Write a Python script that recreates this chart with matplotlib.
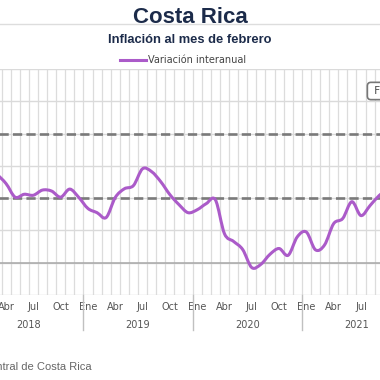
import numpy as np
import matplotlib.pyplot as plt
import matplotlib.transforms as mtransforms
from matplotlib.path import Path
from matplotlib.patches import PathPatch
from matplotlib.lines import Line2D


# datos: variacion interanual del IPC, enero 2018 - febrero 2022
MESES = ["Ene", "Feb", "Mar", "Abr", "May", "Jun",
         "Jul", "Ago", "Sep", "Oct", "Nov", "Dic"]
ANIOS = [2018, 2019, 2020, 2021, 2022]
variacion = [
    2.60, 2.80, 2.72, 2.45, 2.03, 2.12, 2.09, 2.25, 2.22, 2.03, 2.28, 2.02,
    1.68, 1.55, 1.40, 2.02, 2.29, 2.39, 2.91, 2.82, 2.51, 2.11, 1.80, 1.55,
    1.64, 1.83, 1.95, 0.90, 0.66, 0.41, -0.15, -0.05, 0.26, 0.44, 0.23, 0.80,
    0.95, 0.40, 0.55, 1.21, 1.37, 1.89, 1.46, 1.77, 2.08, 2.30, 2.60, 3.30,
    3.46, 4.08,
]
META_INF = 2
META_SUP = 4

PURPLE = "#ab5bc9"
NAVY = "#1c2b4a"
W = H = 380.0


def spline_path(x, y):
    # curva suave tipo catmull-rom pasada a bezier cubica
    p = np.column_stack([x, y])
    n = len(p)
    verts = [p[0]]
    codes = [Path.MOVETO]
    for i in range(n - 1):
        p0 = p[max(i - 1, 0)]
        p1 = p[i]
        p2 = p[i + 1]
        p3 = p[min(i + 2, n - 1)]
        c1 = p1 + (p2 - p0) / 6.0
        c2 = p2 - (p3 - p1) / 6.0
        verts += [c1, c2, p2]
        codes += [Path.CURVE4] * 3
    return Path(verts, codes)


n = len(variacion)
x = np.arange(n)

fig = plt.figure(figsize=(3.8, 3.8), dpi=100)

# el grafico original esta recortado a izquierda y derecha
left_px, right_px = -25.8, -25.8 + n * 9.1
top_px, bot_px = 69, 295
ax = fig.add_axes([left_px / W, 1 - bot_px / H,
                   (right_px - left_px) / W, (bot_px - top_px) / H])
ax.set_xlim(-0.5, n - 0.5)
ax.set_ylim(-1, 6)

for s in ax.spines.values():
    s.set_visible(False)

ax.set_yticks(range(-1, 7))
ax.set_yticklabels([])
ax.tick_params(axis="y", length=0)
ax.yaxis.grid(True, color="#dadada", lw=1.0)
ax.set_xticks(np.arange(n) + 0.5, minor=True)
ax.xaxis.grid(True, which="minor", color="#dcdcdc", lw=0.9)
ax.set_axisbelow(True)

ax.axhline(0, color="#a8a8a8", lw=1.1, zorder=1)
for v in (META_INF, META_SUP):
    ax.axhline(v, color="#7a7a7a", lw=1.9, ls=(0, (3.5, 1.6)), zorder=2)

ax.add_patch(PathPatch(spline_path(x, variacion), fill=False,
                       edgecolor=PURPLE, lw=2.2, capstyle="round",
                       joinstyle="round", zorder=3))

# etiquetas de meses (trimestrales)
pos = [i for i in range(n) if i % 3 == 0]
ax.set_xticks(pos)
ax.set_xticklabels([MESES[i % 12] for i in pos], fontsize=7, color="#555555")
ax.tick_params(axis="x", which="both", length=0, pad=5)

trans = mtransforms.blended_transform_factory(ax.transData, ax.transAxes)
ah = bot_px - top_px
for k, anio in enumerate(ANIOS):
    ini = k * 12 - 0.5
    fin = min(ini + 12, n - 0.5)
    if k > 0:
        ax.plot([ini, ini], [0, -35 / ah], transform=trans, color="#c0c0c0",
                lw=1, clip_on=False)
    ax.text((ini + fin) / 2, -30 / ah, str(anio), transform=trans,
            ha="center", va="center", fontsize=7, color="#555555")

# titulos
fig.add_artist(Line2D([0, 1], [1 - 24.3 / H] * 2, color="#dddddd", lw=1))
fig.text(0.5, 1 - 23.3 / H, "Costa Rica", ha="center", va="baseline",
         fontsize=16, fontweight="bold", color=NAVY, family="Liberation Sans")
fig.text(0.5, 1 - 43 / H, "Inflación al mes de febrero", ha="center",
         va="baseline", fontsize=9.3, fontweight="bold", color=NAVY,
         family="Liberation Sans")

h = Line2D([], [], color=PURPLE, lw=2.2)
fig.legend(handles=[h], labels=["Variación interanual"], loc="center",
           bbox_to_anchor=(183 / W, 1 - 60 / H), frameon=False, fontsize=7,
           handlelength=2.7, handletextpad=0.25, labelcolor="#444444")

fig.text(371 / W, 1 - 91 / H, " Febrero 2022", ha="left", va="center",
         fontsize=7.5, color="#444444",
         bbox=dict(boxstyle="round,pad=0.35", fc="white", ec="#777777", lw=1.2))

fig.text(92 / W, 1 - 367 / H, "Fuente: Banco Central de Costa Rica",
         ha="right", va="center", fontsize=8, color="#666666",
         family="Liberation Sans")

fig.savefig("out.png", dpi=100)
